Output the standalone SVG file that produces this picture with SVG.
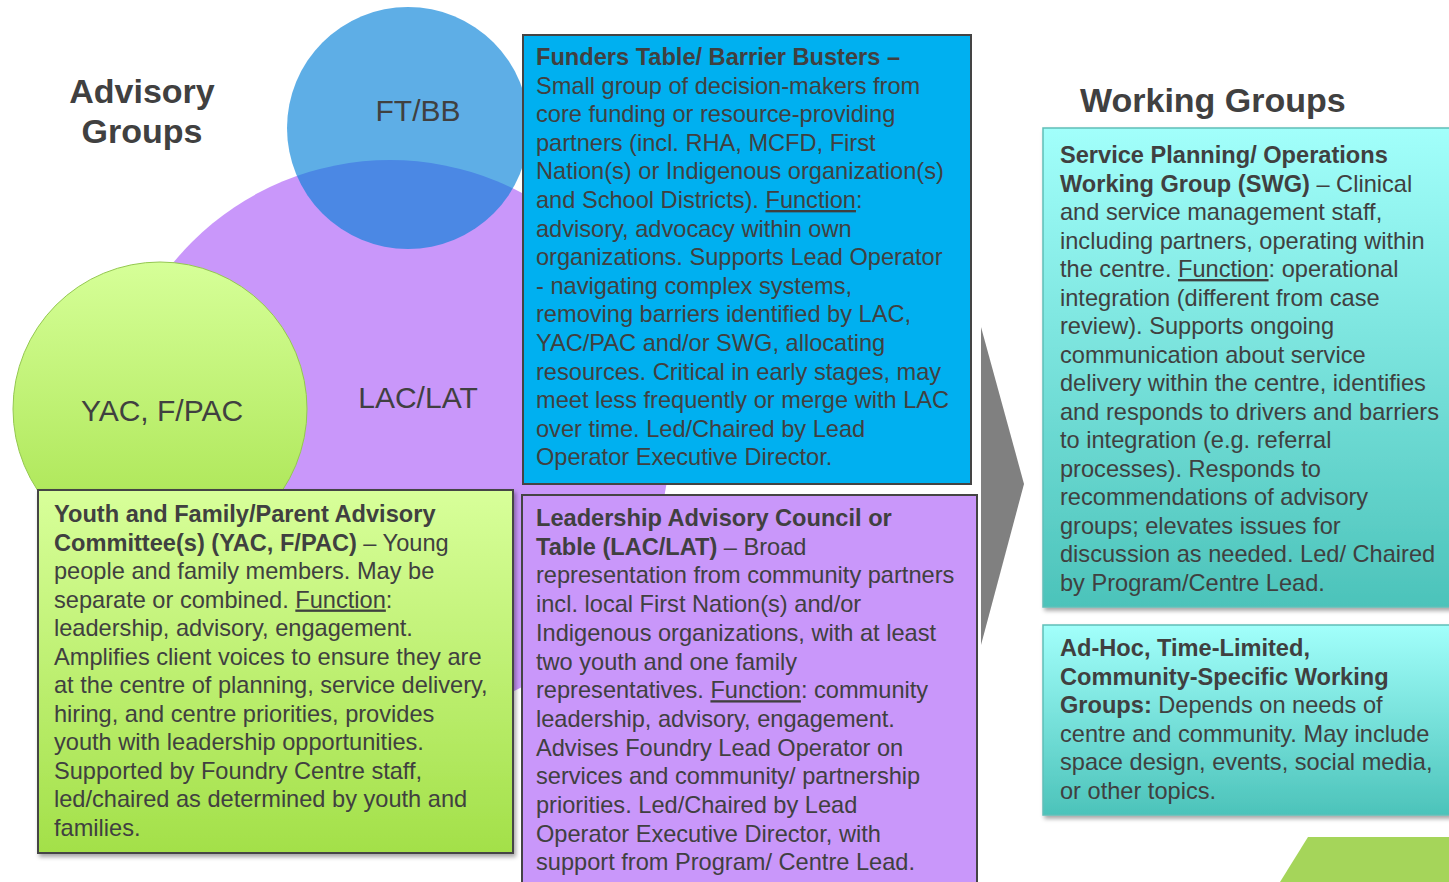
<svg xmlns="http://www.w3.org/2000/svg" width="1449" height="882" viewBox="0 0 1449 882">
<style>
.t{font-family:"Liberation Sans",Arial,sans-serif;font-size:23.6px;fill:#404040}
.b{font-weight:bold}
.u{text-decoration:underline}
.h{font-family:"Liberation Sans",Arial,sans-serif;font-size:34px;font-weight:bold;fill:#404040}
.c{font-family:"Liberation Sans",Arial,sans-serif;font-size:30px;fill:#404040;text-anchor:middle}
.box{stroke:#444;stroke-width:2}
.wg{fill:url(#gTeal);stroke:#5fbfb8;stroke-width:1.5;filter:url(#sh)}
</style>
<defs>
<linearGradient id="gGreen" x1="0" y1="0" x2="0" y2="1">
<stop offset="0" stop-color="#d8ff9a"/><stop offset="1" stop-color="#a3e049"/>
</linearGradient>
<linearGradient id="gCirc" x1="0" y1="0" x2="0" y2="1">
<stop offset="0" stop-color="#d6ff98"/><stop offset="1" stop-color="#a6e24c"/>
</linearGradient>
<linearGradient id="gTeal" x1="0" y1="0" x2="0" y2="1">
<stop offset="0" stop-color="#a2fffb"/><stop offset="1" stop-color="#4cc3ba"/>
</linearGradient>
<filter id="sh" x="-5%" y="-5%" width="115%" height="115%">
<feDropShadow dx="2" dy="3" stdDeviation="2" flood-color="#000" flood-opacity="0.35"/>
</filter>
</defs>

<g id="titles">
<text class="h" x="142" y="103" text-anchor="middle">Advisory</text>
<text class="h" x="142" y="143" text-anchor="middle">Groups</text>
<text class="h" x="1080" y="112">Working Groups</text>
</g>

<g id="circle-lac">
<circle cx="390" cy="440" r="280" fill="#c997fa"/>
<text class="c" x="418" y="408">LAC/LAT</text>
</g>
<g id="circle-ftbb">
<circle cx="408" cy="128" r="121" fill="rgb(3,128,216)" fill-opacity="0.64"/>
<text class="c" x="418" y="121">FT/BB</text>
</g>
<g id="circle-yac">
<circle cx="160" cy="409" r="147" fill="url(#gCirc)" stroke="#94c850" stroke-width="1"/>
<text class="c" x="162" y="421">YAC, F/PAC</text>
</g>

<g id="connectors">
<polygon points="981,327 1024,484 981,645" fill="#808080"/>
</g>

<g id="box-ftbb">
<rect class="box" x="523" y="35" width="448" height="449" fill="#00b0f0"/>
<text class="t" x="536" y="65">
<tspan class="b">Funders Table/ Barrier Busters –</tspan>
<tspan x="536" dy="28.6">Small group of decision-makers from</tspan>
<tspan x="536" dy="28.6">core funding or resource-providing</tspan>
<tspan x="536" dy="28.6">partners (incl. RHA, MCFD, First</tspan>
<tspan x="536" dy="28.6">Nation(s) or Indigenous organization(s)</tspan>
<tspan x="536" dy="28.6">and School Districts). <tspan class="u">Function</tspan>:</tspan>
<tspan x="536" dy="28.6">advisory, advocacy within own</tspan>
<tspan x="536" dy="28.6">organizations. Supports Lead Operator</tspan>
<tspan x="536" dy="28.6">- navigating complex systems,</tspan>
<tspan x="536" dy="28.6">removing barriers identified by LAC,</tspan>
<tspan x="536" dy="28.6">YAC/PAC and/or SWG, allocating</tspan>
<tspan x="536" dy="28.6">resources. Critical in early stages, may</tspan>
<tspan x="536" dy="28.6">meet less frequently or merge with LAC</tspan>
<tspan x="536" dy="28.6">over time. Led/Chaired by Lead</tspan>
<tspan x="536" dy="28.6">Operator Executive Director.</tspan>
</text>
</g>

<g id="box-yac">
<rect class="box" x="38" y="490" width="475" height="363" fill="url(#gGreen)" filter="url(#sh)"/>
<text class="t" x="54" y="522">
<tspan class="b">Youth and Family/Parent Advisory</tspan>
<tspan x="54" dy="28.5"><tspan class="b">Committee(s) (YAC, F/PAC)</tspan> – Young</tspan>
<tspan x="54" dy="28.5">people and family members. May be</tspan>
<tspan x="54" dy="28.5">separate or combined. <tspan class="u">Function</tspan>:</tspan>
<tspan x="54" dy="28.5">leadership, advisory, engagement.</tspan>
<tspan x="54" dy="28.5">Amplifies client voices to ensure they are</tspan>
<tspan x="54" dy="28.5">at the centre of planning, service delivery,</tspan>
<tspan x="54" dy="28.5">hiring, and centre priorities, provides</tspan>
<tspan x="54" dy="28.5">youth with leadership opportunities.</tspan>
<tspan x="54" dy="28.5">Supported by Foundry Centre staff,</tspan>
<tspan x="54" dy="28.5">led/chaired as determined by youth and</tspan>
<tspan x="54" dy="28.5">families.</tspan>
</text>
</g>

<g id="box-lac">
<rect class="box" x="522" y="495" width="455" height="400" fill="#c997fa"/>
<text class="t" x="536" y="526">
<tspan class="b">Leadership Advisory Council or</tspan>
<tspan x="536" dy="28.7"><tspan class="b">Table (LAC/LAT)</tspan> – Broad</tspan>
<tspan x="536" dy="28.7">representation from community partners</tspan>
<tspan x="536" dy="28.7">incl. local First Nation(s) and/or</tspan>
<tspan x="536" dy="28.7">Indigenous organizations, with at least</tspan>
<tspan x="536" dy="28.7">two youth and one family</tspan>
<tspan x="536" dy="28.7">representatives. <tspan class="u">Function</tspan>: community</tspan>
<tspan x="536" dy="28.7">leadership, advisory, engagement.</tspan>
<tspan x="536" dy="28.7">Advises Foundry Lead Operator on</tspan>
<tspan x="536" dy="28.7">services and community/ partnership</tspan>
<tspan x="536" dy="28.7">priorities. Led/Chaired by Lead</tspan>
<tspan x="536" dy="28.7">Operator Executive Director, with</tspan>
<tspan x="536" dy="28.7">support from Program/ Centre Lead.</tspan>
</text>
</g>

<g id="box-swg">
<rect class="wg" x="1043" y="128" width="420" height="479"/>
<text class="t" x="1060" y="163">
<tspan class="b">Service Planning/ Operations</tspan>
<tspan x="1060" dy="28.5"><tspan class="b">Working Group (SWG)</tspan> – Clinical</tspan>
<tspan x="1060" dy="28.5">and service management staff,</tspan>
<tspan x="1060" dy="28.5">including partners, operating within</tspan>
<tspan x="1060" dy="28.5">the centre. <tspan class="u">Function</tspan>: operational</tspan>
<tspan x="1060" dy="28.5">integration (different from case</tspan>
<tspan x="1060" dy="28.5">review). Supports ongoing</tspan>
<tspan x="1060" dy="28.5">communication about service</tspan>
<tspan x="1060" dy="28.5">delivery within the centre, identifies</tspan>
<tspan x="1060" dy="28.5">and responds to drivers and barriers</tspan>
<tspan x="1060" dy="28.5">to integration (e.g. referral</tspan>
<tspan x="1060" dy="28.5">processes). Responds to</tspan>
<tspan x="1060" dy="28.5">recommendations of advisory</tspan>
<tspan x="1060" dy="28.5">groups; elevates issues for</tspan>
<tspan x="1060" dy="28.5">discussion as needed. Led/ Chaired</tspan>
<tspan x="1060" dy="28.5">by Program/Centre Lead.</tspan>
</text>
</g>

<g id="box-adhoc">
<rect class="wg" x="1043" y="625" width="420" height="190"/>
<text class="t" x="1060" y="656">
<tspan class="b">Ad-Hoc, Time-Limited,</tspan>
<tspan x="1060" dy="28.6" class="b">Community-Specific Working</tspan>
<tspan x="1060" dy="28.6"><tspan class="b">Groups:</tspan> Depends on needs of</tspan>
<tspan x="1060" dy="28.6">centre and community. May include</tspan>
<tspan x="1060" dy="28.6">space design, events, social media,</tspan>
<tspan x="1060" dy="28.6">or other topics.</tspan>
</text>
</g>

<g id="corner-shape">
<polygon points="1308,837 1449,837 1449,882 1280,882" fill="#a5d55a"/>
</g>
</svg>
